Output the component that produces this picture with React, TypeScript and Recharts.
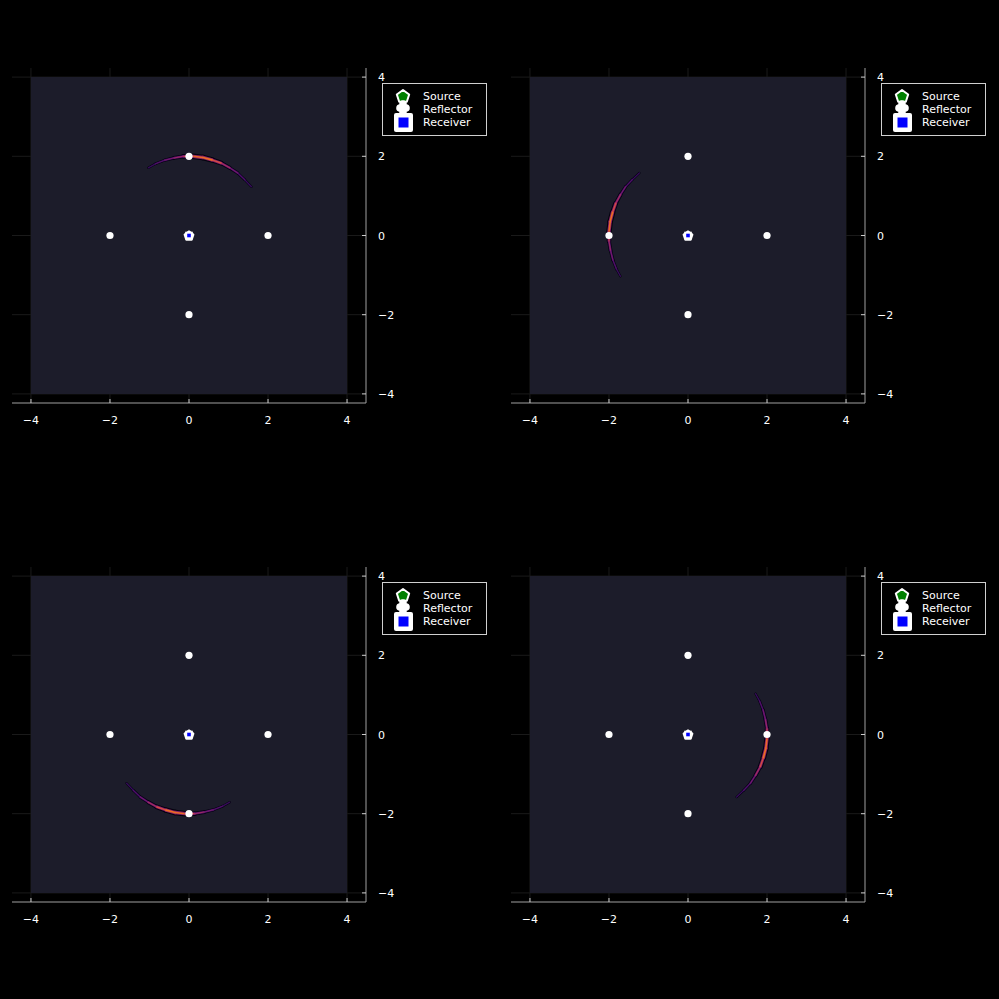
import React from "react";
import {
  ComposedChart,
  XAxis,
  YAxis,
  CartesianGrid,
  ReferenceArea,
  Line,
  Scatter,
  Legend,
} from "recharts";

// tick positions on both axes
const ticks = [-4, -2, 0, 2, 4];

// point positions
const reflectors = [
  { x: 0, y: 2 },
  { x: -2, y: 0 },
  { x: 2, y: 0 },
  { x: 0, y: -2 },
];
const source = [{ x: 0, y: 0 }];
const receiver = [{ x: 0, y: 0 }];

// image strength along each arc (same order as the arc points)
const arcIntensity = [0.04, 0.12, 0.25, 0.4, 0.6, 0.85, 0.95, 0.8, 0.5, 0.38, 0.25, 0.12, 0.03];

// arc points
const arcTop = [
  [1.58, 1.23], [1.41, 1.41], [1.23, 1.58], [1.03, 1.71], [0.81, 1.83], [0.58, 1.91], [0.35, 1.97],
  [0.1, 2.0], [-0.14, 2.0], [-0.38, 1.96], [-0.62, 1.9], [-0.85, 1.81], [-1.03, 1.71],
];
const arcLeft = [
  [-1.23, 1.58], [-1.41, 1.41], [-1.58, 1.23], [-1.71, 1.03], [-1.83, 0.81], [-1.91, 0.58], [-1.97, 0.35],
  [-2.0, 0.1], [-2.0, -0.14], [-1.96, -0.38], [-1.9, -0.62], [-1.81, -0.85], [-1.71, -1.03],
];
const arcBottom = [
  [-1.58, -1.23], [-1.41, -1.41], [-1.23, -1.58], [-1.03, -1.71], [-0.81, -1.83], [-0.58, -1.91], [-0.35, -1.97],
  [-0.1, -2.0], [0.14, -2.0], [0.38, -1.96], [0.62, -1.9], [0.85, -1.81], [1.03, -1.71],
];
const arcRight = [
  [1.23, -1.58], [1.41, -1.41], [1.58, -1.23], [1.71, -1.03], [1.83, -0.81], [1.91, -0.58], [1.97, -0.35],
  [2.0, -0.1], [2.0, 0.14], [1.96, 0.38], [1.9, 0.62], [1.81, 0.85], [1.71, 1.03],
];

const panels = [
  { arc: arcTop, left: 0, top: 0 },
  { arc: arcLeft, left: 499, top: 0 },
  { arc: arcBottom, left: 0, top: 499 },
  { arc: arcRight, left: 499, top: 499 },
];

const FONT = "'DejaVu Sans', sans-serif";

const infernoStops = [
  "#000004", "#160b39", "#420a68", "#6a176e", "#932667", "#bc3754",
  "#dd513a", "#f37819", "#fca50a", "#f6d746", "#fcffa4",
];

function hex(c: string) {
  return [1, 3, 5].map((i) => parseInt(c.slice(i, i + 2), 16));
}

function inferno(t: number) {
  const s = Math.max(0, Math.min(1, t)) * 10;
  const i = Math.min(9, Math.floor(s));
  const f = s - i;
  const a = hex(infernoStops[i]);
  const b = hex(infernoStops[i + 1]);
  const m = a.map((v, k) => Math.round(v + (b[k] - v) * f));
  return `rgb(${m[0]},${m[1]},${m[2]})`;
}

const fmt = (t: number) => (t < 0 ? `\u2212${-t}` : `${t}`);

const XTick = (props: any) => {
  const { x, y, payload } = props;
  return (
    <g>
      <line x1={x} x2={x} y1={y} y2={y - 4} stroke="#cccccc" strokeWidth={1} />
      <text x={x} y={y + 21} fill="#ffffff" fontSize={11} fontFamily={FONT} textAnchor="middle">
        {fmt(payload.value)}
      </text>
    </g>
  );
};

const YTick = (props: any) => {
  const { x, y, payload } = props;
  return (
    <g>
      <line x1={x} x2={x - 4} y1={y} y2={y} stroke="#cccccc" strokeWidth={1} />
      <text x={x + 12} y={y + 4} fill="#ffffff" fontSize={11} fontFamily={FONT} textAnchor="start">
        {fmt(payload.value)}
      </text>
    </g>
  );
};

const Reflector = (props: any) => (
  <circle cx={props.cx} cy={props.cy} r={3.6} fill="#ffffff" />
);

function pentagon(cx: number, cy: number, r: number) {
  const pts: string[] = [];
  for (let k = 0; k < 5; k++) {
    const a = -Math.PI / 2 + (k * 2 * Math.PI) / 5;
    pts.push(`${cx + r * Math.cos(a)},${cy + r * Math.sin(a)}`);
  }
  return pts.join(" ");
}

const SourceMark = (props: any) => (
  <polygon points={pentagon(props.cx, props.cy + 0.5, 4.6)} fill="#008000" stroke="#ffffff" strokeWidth={2} strokeLinejoin="round" />
);

const ReceiverMark = (props: any) => (
  <rect x={props.cx - 2.8} y={props.cy - 2.8} width={5.6} height={5.6} fill="#0000ff" stroke="#ffffff" strokeWidth={2} />
);

const LegendBox = () => (
  <svg width={106} height={54} style={{ display: "block" }}>
    <rect x={0.5} y={0.5} width={104} height={52} fill="#000000" stroke="#d0d0d0" strokeWidth={1} />
    <polygon points={pentagon(21, 13.5, 6.5)} fill="#008000" stroke="#ffffff" strokeWidth={2} strokeLinejoin="round" />
    <circle cx={21} cy={21} r={3.8} fill="#ffffff" />
    <circle cx={18} cy={25} r={3.8} fill="#ffffff" />
    <circle cx={24} cy={25} r={3.8} fill="#ffffff" />
    <circle cx={21} cy={29} r={3.8} fill="#ffffff" />
    <rect x={12} y={30} width={19} height={19} rx={2} fill="#ffffff" />
    <rect x={16.5} y={34.5} width={10} height={10} fill="#0000ff" />
    <text x={41} y={17} fill="#ffffff" fontSize={11} fontFamily={FONT}>Source</text>
    <text x={41} y={30} fill="#ffffff" fontSize={11} fontFamily={FONT}>Reflector</text>
    <text x={41} y={43} fill="#ffffff" fontSize={11} fontFamily={FONT}>Receiver</text>
  </svg>
);

function Panel({ arc, left, top }: { arc: number[][]; left: number; top: number }) {
  const segs = arc.slice(0, -1).map((p, j) => ({
    data: [
      { x: p[0], y: p[1] },
      { x: arc[j + 1][0], y: arc[j + 1][1] },
    ],
    v: (arcIntensity[j] + arcIntensity[j + 1]) / 2,
  }));

  // three passes per arc: dark rim, purple band, bright core
  const layers = [
    { color: (v: number) => inferno(0.02), width: (v: number) => 2 + 4 * v },
    { color: (v: number) => inferno(0.12 + 0.3 * v), width: (v: number) => 1.2 + 2.4 * v },
    { color: (v: number) => inferno(0.18 + 0.55 * v), width: (v: number) => 0.4 + 1.4 * v },
  ];

  return (
    <div style={{ position: "absolute", left, top }}>
      <ComposedChart width={499} height={499} margin={{ top: 68, right: 132, bottom: 95, left: 12 }}>
        <CartesianGrid
          stroke="#1a1a1a"
          strokeWidth={1}
          horizontalValues={ticks}
          verticalValues={ticks}
        />
        <XAxis
          type="number"
          dataKey="x"
          domain={[-4.48, 4.48]}
          ticks={ticks}
          interval={0}
          allowDataOverflow
          height={1}
          tickSize={0}
          tickMargin={0}
          tick={XTick}
          tickLine={false}
          stroke="#a0a0a0"
        />
        <YAxis
          type="number"
          dataKey="y"
          orientation="right"
          domain={[-4.23, 4.23]}
          ticks={ticks}
          interval={0}
          allowDataOverflow
          width={1}
          tickSize={0}
          tickMargin={0}
          tick={YTick}
          tickLine={false}
          stroke="#a0a0a0"
        />
        <ReferenceArea x1={-4} x2={4} y1={-4} y2={4} fill="#1c1c2a" fillOpacity={1} stroke="none" />
        {layers.map((l, li) =>
          segs.map((s, i) => (
            <Line
              key={`l${li}-${i}`}
              data={s.data}
              dataKey="y"
              type="linear"
              stroke={l.color(s.v)}
              strokeWidth={l.width(s.v)}
              strokeLinecap="round"
              dot={false}
              activeDot={false}
              isAnimationActive={false}
            />
          ))
        )}
        <Scatter data={reflectors} shape={Reflector} isAnimationActive={false} />
        <Scatter data={source} shape={SourceMark} isAnimationActive={false} />
        <Scatter data={receiver} shape={ReceiverMark} isAnimationActive={false} />
        <Legend
          layout="horizontal"
          verticalAlign="middle"
          align="center"
          content={LegendBox}
          wrapperStyle={{ position: "absolute", left: 382, top: 83, width: 106, height: 54 }}
        />
      </ComposedChart>
    </div>
  );
}

export default function App() {
  return (
    <div style={{ position: "fixed", left: 0, top: 0, width: 999, height: 999, background: "#000000" }}>
      {panels.map((p, i) => (
        <Panel key={i} arc={p.arc} left={p.left} top={p.top} />
      ))}
    </div>
  );
}
